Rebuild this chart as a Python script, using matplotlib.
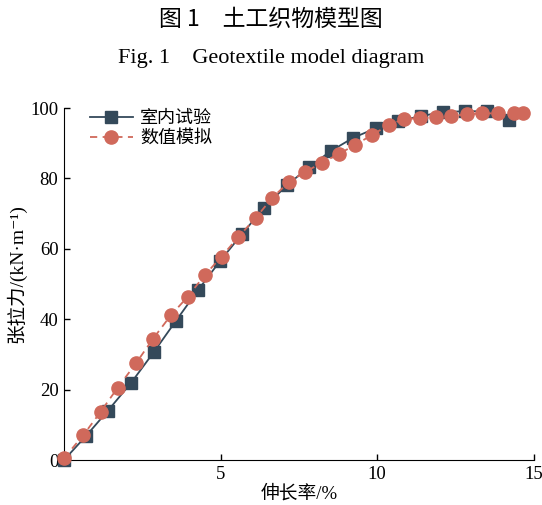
import matplotlib.pyplot as plt
import numpy as np

plt.rcParams['font.family'] = ['Liberation Serif', 'Noto Sans CJK SC', 'DejaVu Serif']

# 室内试验 (lab test)
test_x = [0.0, 0.70, 1.40, 2.14, 2.87, 3.57, 4.28, 4.98, 5.68, 6.38, 7.12,
          7.82, 8.52, 9.22, 9.96, 10.66, 11.39, 12.10, 12.80, 13.50, 14.20]
test_y = [0.0, 6.8, 14.0, 21.9, 30.7, 39.5, 48.3, 56.5, 64.2, 71.6, 78.1,
          83.2, 87.8, 91.5, 94.3, 96.3, 97.7, 98.9, 99.1, 99.1, 96.6]

# 数值模拟 (simulation)
sim_x = [0.0, 0.62, 1.17, 1.71, 2.30, 2.83, 3.41, 3.95, 4.49, 5.03, 5.56,
         6.12, 6.65, 7.18, 7.71, 8.24, 8.78, 9.29, 9.82, 10.37, 10.86, 11.38,
         11.87, 12.37, 12.87, 13.36, 13.86, 14.36, 14.66]
sim_y = [0.5, 7.1, 13.7, 20.5, 27.5, 34.3, 41.1, 46.4, 52.5, 57.8, 63.3,
         68.8, 74.5, 79.0, 81.9, 84.5, 87.0, 89.5, 92.3, 95.2, 96.9, 97.1,
         97.4, 97.8, 98.2, 98.5, 98.5, 98.5, 98.5]

fig = plt.figure(figsize=(5.42, 5.05), dpi=100)
ax = fig.add_axes([0.118, 0.089, 0.867, 0.697])

ax.plot(test_x, test_y, color='#34495a', lw=1.3, marker='s', ms=8,
        label='室内试验', clip_on=False, zorder=2)
ax.plot(sim_x, sim_y, color='#d0695b', lw=1.3, ls=(0, (4, 3)), marker='o',
        ms=9.5, label='数值模拟', clip_on=False, zorder=3)

ax.set_xlim(0, 15)
ax.set_ylim(0, 100)
ax.set_xticks([5, 10, 15])
ax.set_yticks(np.arange(0, 101, 20))
ax.tick_params(direction='in', length=4, width=1, labelsize=13.5, pad=4)
ax.spines['top'].set_visible(False)
ax.spines['right'].set_visible(False)

ax.set_xlabel('伸长率/%', fontsize=13.5, labelpad=2)
ax.set_ylabel('张拉力/(kN·m⁻¹)', fontsize=14)
ax.yaxis.set_label_coords(-0.08, 0.53)

ax.legend(loc='upper left', bbox_to_anchor=(0.02, 1.04), frameon=False,
          fontsize=13, handlelength=2.4, handletextpad=0.4, labelspacing=0.15)

fig.text(0.5, 0.962, '图 1　土工织物模型图', ha='center', va='center',
         fontsize=16.5, family='Noto Sans CJK SC')
fig.text(0.5, 0.885, 'Fig. 1　Geotextile model diagram', ha='center',
         va='center', fontsize=16, family=['Liberation Serif', 'Noto Sans CJK SC'])

fig.savefig('out.png', dpi=100)
